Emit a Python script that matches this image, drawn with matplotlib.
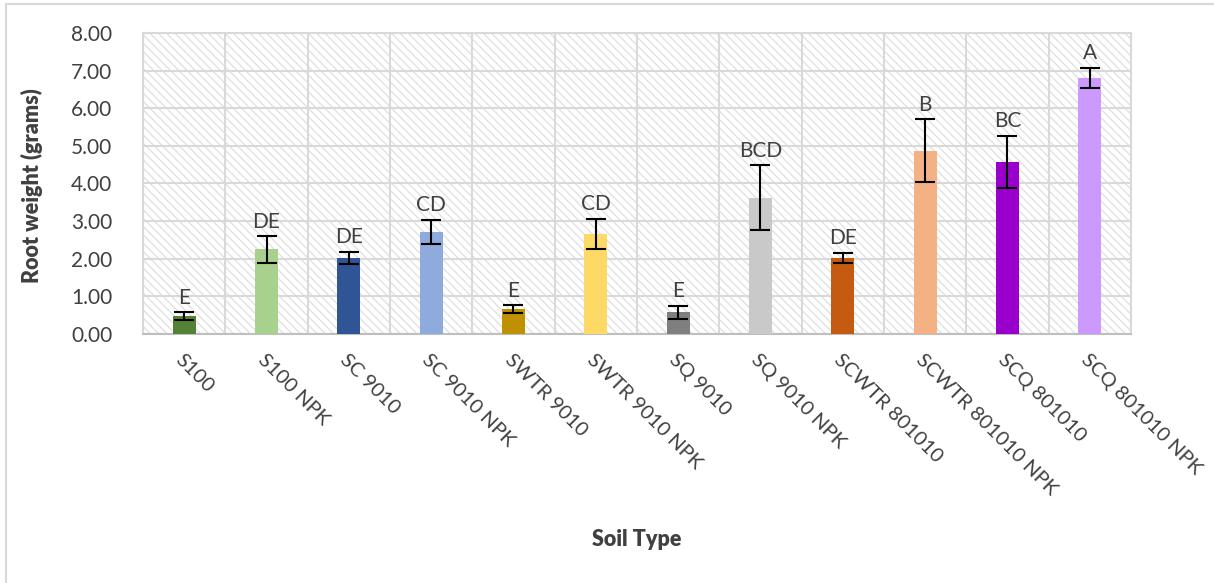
import matplotlib.pyplot as plt
import numpy as np
from matplotlib.patches import Rectangle

plt.rcParams['font.family'] = ['Lato', 'DejaVu Sans']
plt.rcParams['hatch.linewidth'] = 1.0
plt.rcParams['hatch.color'] = '#e2e2e2'

# ── Data ─────────────────────────────────────────────────────
soil_types = ['S100', 'S100 NPK', 'SC 9010', 'SC 9010 NPK', 'SWTR 9010',
              'SWTR 9010 NPK', 'SQ 9010', 'SQ 9010 NPK', 'SCWTR 801010',
              'SCWTR 801010 NPK', 'SCQ 801010', 'SCQ 801010 NPK']
root_weight = [0.48, 2.25, 2.02, 2.72, 0.66, 2.66, 0.58, 3.62, 2.02, 4.87, 4.57, 6.81]
std_err = [0.10, 0.35, 0.17, 0.32, 0.10, 0.40, 0.17, 0.86, 0.14, 0.84, 0.70, 0.27]
groups = ['E', 'DE', 'DE', 'CD', 'E', 'CD', 'E', 'BCD', 'DE', 'B', 'BC', 'A']
bar_colors = ['#548235', '#A9D18E', '#2F5597', '#8FAADC', '#BF9000', '#FFD966',
              '#7F7F7F', '#C9C9C9', '#C55A11', '#F4B183', '#9900CC', '#CC99FF']

text_grey = '#404040'
grid_grey = '#d9d9d9'
fs = 15

fig = plt.figure(figsize=(12.14, 5.83), dpi=100)
ax = fig.add_axes([0.1178, 0.4271, 0.8138, 0.5163])

x = np.arange(len(soil_types))

# hatched plot-area background
ax.add_patch(Rectangle((0, 0), 1, 1, transform=ax.transAxes, facecolor='white',
                       edgecolor='#e2e2e2', hatch='\\\\\\\\', linewidth=0, zorder=0))

ax.bar(x, root_weight, width=0.28, color=bar_colors, zorder=3)
ax.errorbar(x, root_weight, yerr=std_err, fmt='none', ecolor='black',
            elinewidth=1.5, capsize=7, capthick=1.5, zorder=4)

for xi, val, err, g in zip(x, root_weight, std_err, groups):
    ax.text(xi, val + err + 0.12, g, ha='center', va='bottom',
            fontsize=fs, color=text_grey, zorder=5)

ax.set_xlim(-0.5, len(soil_types) - 0.5)
ax.set_ylim(0, 8)
ax.set_yticks(np.arange(0, 8.01, 1))
ax.set_yticklabels([f'{v:.2f}' for v in np.arange(0, 8.01, 1)])

# horizontal gridlines at each tick, vertical ones between categories
ax.grid(axis='y', color=grid_grey, linewidth=1.5, zorder=1)
for b in np.arange(-0.5, len(soil_types), 1):
    ax.axvline(b, color=grid_grey, linewidth=1.5, zorder=1)

ax.set_xticks(x)
ax.set_xticklabels(soil_types, rotation=-45, ha='left', va='top',
                   rotation_mode='anchor', fontsize=14.5, color=text_grey)
ax.tick_params(axis='x', length=0, pad=12)
ax.tick_params(axis='y', length=0, labelsize=fs, labelcolor=text_grey, pad=22)

for side in ['top', 'right', 'left']:
    ax.spines[side].set_color(grid_grey)
    ax.spines[side].set_linewidth(1.5)
ax.spines['bottom'].set_color('#bfbfbf')
ax.spines['bottom'].set_linewidth(1.5)

fig.text(32 / 1214, 1 - 186 / 583, 'Root weight (grams)', rotation=90,
         ha='center', va='center', fontsize=15.5, fontweight='heavy',
         color=text_grey)
fig.text(637 / 1214, 1 - 540 / 583, 'Soil Type', ha='center', va='center',
         fontsize=15.5, fontweight='heavy', color=text_grey)

# chart frame
fig.patches.append(Rectangle((6 / 1214, -0.05), 1.1, 1 - 4 / 583 + 0.05,
                             transform=fig.transFigure, fill=False,
                             edgecolor=grid_grey, linewidth=1.5))

fig.savefig('out.png', dpi=100)
